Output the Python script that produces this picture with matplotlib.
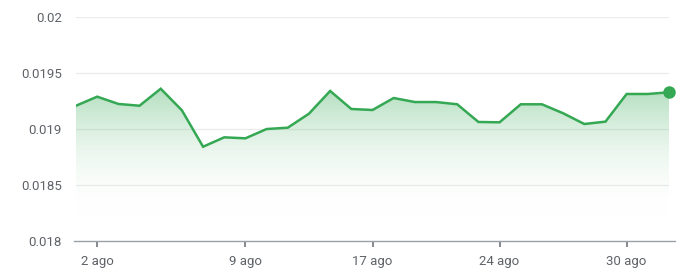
import matplotlib
matplotlib.use("Agg")
import matplotlib.pyplot as plt
import numpy as np
from matplotlib.colors import LinearSegmentedColormap
from matplotlib.patches import Polygon

values = [0.019205, 0.019286, 0.019221, 0.019205, 0.019357, 0.019164, 0.018839,
          0.018923, 0.018914, 0.018997, 0.019009, 0.019134, 0.019337, 0.019176,
          0.019167, 0.019274, 0.019238, 0.019238, 0.019218, 0.019060, 0.019057,
          0.019218, 0.019218, 0.019138, 0.019042, 0.019063, 0.019310, 0.019310,
          0.019325]
tick_idx = [1, 8, 14, 20, 26]
tick_labels = ["2 ago", "9 ago", "17 ago", "24 ago", "30 ago"]
y_ticks = [0.018, 0.0185, 0.019, 0.0195, 0.02]
y_labels = ["0.018", "0.0185", "0.019", "0.0195", "0.02"]

W, H = 693, 277
fig = plt.figure(figsize=(W / 100, H / 100), dpi=100)
ax = fig.add_axes([76 / W, 1 - 240.7 / H, (669 - 76) / W, (240.7 - 16.7) / H])

x = np.arange(len(values))
green = "#34a853"
ax.set_xlim(0, len(values) - 1)
ax.set_ylim(0.018, 0.02)

# gradient fill
ymin_fade = 0.0182
ytop = max(values)
cmap = LinearSegmentedColormap.from_list(
    "g", [(1, 1, 1, 0.0), (52 / 255, 168 / 255, 83 / 255, 0.38)])
grad = np.linspace(0, 1, 256).reshape(-1, 1)
img = ax.imshow(grad, extent=[0, len(values) - 1, ymin_fade, ytop], origin="lower",
                aspect="auto", cmap=cmap, zorder=1)
verts = [(0, 0.018)] + list(zip(x, values)) + [(len(values) - 1, 0.018)]
poly = Polygon(verts, closed=True, facecolor="none", edgecolor="none")
ax.add_patch(poly)
img.set_clip_path(poly)
ax.set_xlim(0, len(values) - 1)
ax.set_ylim(0.018, 0.02)

ax.plot(x, values, color=green, lw=1.8, zorder=3, solid_joinstyle="miter")
ax.plot([x[-1]], [values[-1]], "o", color=green, ms=8, zorder=4, clip_on=False)

for yt in y_ticks[1:]:
    ax.axhline(yt, color="#ebebeb", lw=0.9, zorder=0)

ax.set_yticks(y_ticks)
ax.set_yticklabels(y_labels)
ax.set_xticks(tick_idx)
ax.set_xticklabels(tick_labels)
for s in ["top", "right", "left"]:
    ax.spines[s].set_visible(False)
ax.spines["bottom"].set_color("#9aa0a6")
ax.spines["bottom"].set_linewidth(1.0)
ax.spines["bottom"].set_bounds(-0.1, len(values) - 1 + 0.3)
ax.tick_params(axis="y", length=0, pad=10, labelsize=9.5, labelcolor="#5f6368")
ax.tick_params(axis="x", length=4, width=1.2, color="#70757a", pad=6,
               labelsize=9.5, labelcolor="#5f6368")
for lab in ax.get_xticklabels() + ax.get_yticklabels():
    lab.set_family("Roboto")

fig.savefig("out.png", dpi=100)
